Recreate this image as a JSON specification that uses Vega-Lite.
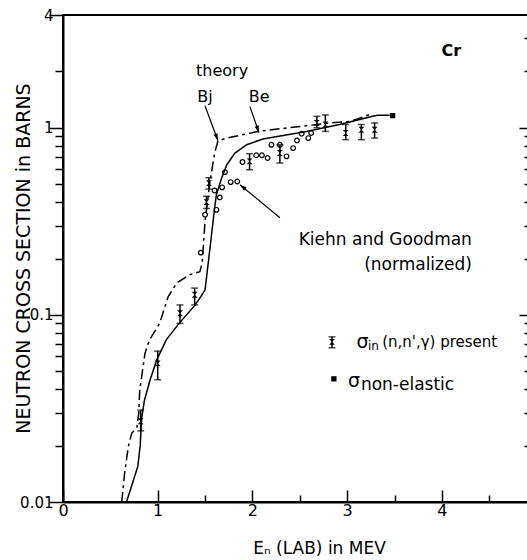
{
  "$schema": "https://vega.github.io/schema/vega-lite/v6.json",
  "width": 466,
  "height": 487,
  "autosize": {"type": "none"},
  "padding": {"left": 63, "top": 15, "right": 0, "bottom": 58},
  "background": "white",
  "config": {
    "font": "DejaVu Sans",
    "view": {"stroke": "black", "strokeWidth": 2},
    "axis": {
      "grid": false,
      "domainColor": "black",
      "domainWidth": 2,
      "tickColor": "black",
      "tickWidth": 1.5,
      "labelColor": "black",
      "titleColor": "black",
      "labelFont": "DejaVu Sans",
      "titleFont": "DejaVu Sans",
      "titleFontWeight": "normal"
    }
  },
  "datasets": {
    "theory_be": [
      {"x": 0.67, "y": 0.01}, {"x": 0.72, "y": 0.012}, {"x": 0.79, "y": 0.0155},
      {"x": 0.815, "y": 0.02}, {"x": 0.83, "y": 0.028}, {"x": 0.86, "y": 0.035},
      {"x": 0.92, "y": 0.045}, {"x": 0.99, "y": 0.0575}, {"x": 1.09, "y": 0.0735},
      {"x": 1.23, "y": 0.0906}, {"x": 1.39, "y": 0.112}, {"x": 1.455, "y": 0.125},
      {"x": 1.5, "y": 0.136}, {"x": 1.55, "y": 0.223}, {"x": 1.6, "y": 0.37},
      {"x": 1.62, "y": 0.44}, {"x": 1.675, "y": 0.538}, {"x": 1.73, "y": 0.634},
      {"x": 1.815, "y": 0.732}, {"x": 1.94, "y": 0.811}, {"x": 2.11, "y": 0.87},
      {"x": 2.57, "y": 0.955}, {"x": 2.92, "y": 1.04}, {"x": 3.27, "y": 1.15},
      {"x": 3.32, "y": 1.165}, {"x": 3.45, "y": 1.165}
    ],
    "theory_bj": [
      {"x": 0.62, "y": 0.01}, {"x": 0.65, "y": 0.0142}, {"x": 0.69, "y": 0.0198},
      {"x": 0.725, "y": 0.0233}, {"x": 0.78, "y": 0.025}, {"x": 0.8, "y": 0.03},
      {"x": 0.81, "y": 0.0396}, {"x": 0.865, "y": 0.062}, {"x": 0.91, "y": 0.073},
      {"x": 1.02, "y": 0.09}, {"x": 1.11, "y": 0.125}, {"x": 1.2, "y": 0.148},
      {"x": 1.34, "y": 0.164}, {"x": 1.445, "y": 0.17}, {"x": 1.47, "y": 0.19},
      {"x": 1.5, "y": 0.32}, {"x": 1.52, "y": 0.38}, {"x": 1.55, "y": 0.506},
      {"x": 1.6, "y": 0.73}, {"x": 1.636, "y": 0.85}, {"x": 1.73, "y": 0.88},
      {"x": 2.06, "y": 0.955}, {"x": 2.39, "y": 1.0}, {"x": 2.82, "y": 1.06},
      {"x": 3.03, "y": 1.08}, {"x": 3.27, "y": 1.19}
    ],
    "bars": [
      {"role": "data", "x": 0.82, "y": 0.027, "lo": 0.024, "hi": 0.031},
      {"role": "data", "x": 1.0, "y": 0.055, "lo": 0.045, "hi": 0.064},
      {"role": "data", "x": 1.235, "y": 0.102, "lo": 0.09, "hi": 0.113},
      {"role": "data", "x": 1.39, "y": 0.128, "lo": 0.113, "hi": 0.139},
      {"role": "data", "x": 1.515, "y": 0.4, "lo": 0.37, "hi": 0.43},
      {"role": "data", "x": 1.54, "y": 0.506, "lo": 0.47, "hi": 0.54},
      {"role": "data", "x": 1.97, "y": 0.66, "lo": 0.596, "hi": 0.726},
      {"role": "data", "x": 2.29, "y": 0.732, "lo": 0.647, "hi": 0.81},
      {"role": "data", "x": 2.68, "y": 1.06, "lo": 1.0, "hi": 1.15},
      {"role": "data", "x": 2.77, "y": 1.04, "lo": 0.955, "hi": 1.17},
      {"role": "data", "x": 2.985, "y": 0.937, "lo": 0.863, "hi": 1.04},
      {"role": "data", "x": 3.15, "y": 0.975, "lo": 0.863, "hi": 1.04},
      {"role": "data", "x": 3.29, "y": 0.975, "lo": 0.88, "hi": 1.06},
      {"role": "key", "x": 2.84, "y": 0.0717, "lo": 0.0667, "hi": 0.0763}
    ],
    "kiehn": [
      {"x": 1.455, "y": 0.215}, {"x": 1.5, "y": 0.343}, {"x": 1.62, "y": 0.364},
      {"x": 1.655, "y": 0.424}, {"x": 1.6, "y": 0.462}, {"x": 1.68, "y": 0.48},
      {"x": 1.71, "y": 0.579}, {"x": 1.77, "y": 0.512}, {"x": 1.84, "y": 0.516},
      {"x": 1.895, "y": 0.656}, {"x": 2.04, "y": 0.712}, {"x": 2.1, "y": 0.712},
      {"x": 2.16, "y": 0.689}, {"x": 2.2, "y": 0.81}, {"x": 2.29, "y": 0.81},
      {"x": 2.36, "y": 0.703}, {"x": 2.43, "y": 0.778}, {"x": 2.47, "y": 0.855},
      {"x": 2.52, "y": 0.929}, {"x": 2.59, "y": 0.88}, {"x": 2.62, "y": 0.937}
    ],
    "nonelastic": [
      {"role": "data", "x": 3.48, "y": 1.16},
      {"role": "key", "x": 2.86, "y": 0.0455}
    ],
    "arrows": [
      {"name": "Bj", "x": 1.499, "y": 1.311, "x2": 1.636, "y2": 0.852},
      {"name": "Be", "x": 1.974, "y": 1.295, "x2": 2.069, "y2": 0.94},
      {"name": "Kiehn", "x": 2.29, "y": 0.33, "x2": 1.868, "y2": 0.496}
    ],
    "notes": [
      {"x": 1.68, "y": 2.02, "text": "theory"},
      {"x": 1.5, "y": 1.456, "text": "Bj"},
      {"x": 2.07, "y": 1.456, "text": "Be"}
    ],
    "source_notes": [
      {"x": 4.317, "y": 0.252, "text": "Kiehn and Goodman"},
      {"x": 4.317, "y": 0.185, "text": "(normalized)"}
    ],
    "element": [{"x": 4.1, "y": 2.58, "text": "Cr"}],
    "key_sigma": [
      {"x": 3.1, "y": 0.0717, "text": "σ"},
      {"x": 3.01, "y": 0.0443, "text": "σ"}
    ],
    "key_sub": [{"x": 3.22, "y": 0.0683, "text": "in"}],
    "key_reaction": [{"x": 3.37, "y": 0.0717, "text": "(n,n',γ) present"}],
    "key_nonelastic": [{"x": 3.145, "y": 0.0422, "text": "non-elastic"}]
  },
  "layer": [
    {
      "encoding": {
        "x": {
          "field": "x",
          "type": "quantitative",
          "scale": {"domain": [0, 4.92], "nice": false, "zero": false},
          "axis": {
            "values": [0, 1, 1.5, 2, 2.5, 3, 3.5, 4, 4.5],
            "labelExpr": "datum.value % 1 === 0 ? '' + datum.value : ''",
            "tickSize": {"condition": {"test": "datum.value % 1 === 0", "value": -12}, "value": -7},
            "labelPadding": 12,
            "labelFontSize": 16,
            "labelFlush": false,
            "labelOverlap": false,
            "title": "Eₙ  (LAB) in MEV",
            "titleFontSize": 17,
            "titleX": 256,
            "titleY": 46,
            "titleBaseline": "middle",
            "titleAlign": "center"
          }
        },
        "y": {
          "field": "y",
          "type": "quantitative",
          "scale": {"type": "log", "domain": [0.01, 4], "nice": false},
          "axis": {
            "values": [0.01, 0.02, 0.03, 0.04, 0.05, 0.06, 0.07, 0.08, 0.09, 0.1, 0.2, 0.3, 0.4, 0.5, 0.6, 0.7, 0.8, 0.9, 1, 2, 4],
            "labelExpr": "indexof([0.01, 0.1, 1, 4], datum.value) >= 0 ? '' + datum.value : ''",
            "tickSize": {"condition": {"test": "indexof([0.01, 0.1, 1, 4], datum.value) >= 0", "value": 14}, "value": 8},
            "labelPadding": -4,
            "labelFontSize": 15,
            "labelFlush": false,
            "labelOverlap": false,
            "title": "NEUTRON CROSS SECTION in BARNS",
            "titleFontSize": 19,
            "titleAngle": -90,
            "titleX": -40,
            "titleY": 243,
            "titleBaseline": "middle",
            "titleAlign": "center"
          }
        }
      },
      "layer": [
        {
          "data": {"name": "theory_be"},
          "mark": {"type": "line", "color": "black", "strokeWidth": 1.5},
          "encoding": {}
        },
        {
          "data": {"name": "theory_bj"},
          "mark": {"type": "line", "color": "black", "strokeWidth": 1.5, "strokeDash": [10, 4, 3, 4]},
          "encoding": {}
        },
        {
          "data": {"name": "bars"},
          "mark": {"type": "rule", "color": "black", "strokeWidth": 1.5},
          "encoding": {"y": {"field": "lo", "type": "quantitative"}, "y2": {"field": "hi"}}
        },
        {
          "data": {"name": "bars"},
          "mark": {"type": "tick", "orient": "horizontal", "color": "black", "size": 7, "thickness": 1.5},
          "encoding": {"y": {"field": "lo", "type": "quantitative"}}
        },
        {
          "data": {"name": "bars"},
          "mark": {"type": "tick", "orient": "horizontal", "color": "black", "size": 7, "thickness": 1.5},
          "encoding": {"y": {"field": "hi", "type": "quantitative"}}
        },
        {
          "data": {"name": "bars"},
          "mark": {"type": "point", "shape": "M-1,-1L1,-1L-1,1L1,1Z", "filled": true, "color": "black", "size": 34, "opacity": 1},
          "encoding": {}
        },
        {
          "data": {"name": "kiehn"},
          "mark": {"type": "point", "shape": "circle", "filled": false, "color": "black", "size": 22, "strokeWidth": 1.2, "opacity": 1},
          "encoding": {}
        },
        {
          "data": {"name": "nonelastic"},
          "mark": {"type": "point", "shape": "square", "filled": true, "color": "black", "size": 28, "opacity": 1},
          "encoding": {}
        },
        {
          "data": {"name": "arrows"},
          "mark": {"type": "rule", "color": "black", "strokeWidth": 1.2},
          "encoding": {"x2": {"field": "x2"}, "y2": {"field": "y2"}}
        },
        {
          "data": {"name": "arrows"},
          "transform": [{"filter": "datum.name === 'Bj'"}],
          "mark": {"type": "point", "shape": "M0,0L-0.3,1L0.3,1Z", "filled": true, "color": "black", "size": 200, "angle": 160, "opacity": 1},
          "encoding": {"x": {"field": "x2", "type": "quantitative"}, "y": {"field": "y2", "type": "quantitative"}}
        },
        {
          "data": {"name": "arrows"},
          "transform": [{"filter": "datum.name === 'Be'"}],
          "mark": {"type": "point", "shape": "M0,0L-0.3,1L0.3,1Z", "filled": true, "color": "black", "size": 200, "angle": 161, "opacity": 1},
          "encoding": {"x": {"field": "x2", "type": "quantitative"}, "y": {"field": "y2", "type": "quantitative"}}
        },
        {
          "data": {"name": "arrows"},
          "transform": [{"filter": "datum.name === 'Kiehn'"}],
          "mark": {"type": "point", "shape": "M0,0L-0.3,1L0.3,1Z", "filled": true, "color": "black", "size": 200, "angle": 310, "opacity": 1},
          "encoding": {"x": {"field": "x2", "type": "quantitative"}, "y": {"field": "y2", "type": "quantitative"}}
        },
        {
          "data": {"name": "notes"},
          "mark": {"type": "text", "fontSize": 16, "align": "center", "baseline": "middle", "color": "black"},
          "encoding": {"text": {"field": "text"}}
        },
        {
          "data": {"name": "source_notes"},
          "mark": {"type": "text", "fontSize": 17, "align": "right", "baseline": "middle", "color": "black"},
          "encoding": {"text": {"field": "text"}}
        },
        {
          "data": {"name": "element"},
          "mark": {"type": "text", "fontSize": 16, "fontWeight": "bold", "align": "center", "baseline": "middle", "color": "black"},
          "encoding": {"text": {"field": "text"}}
        },
        {
          "data": {"name": "key_sigma"},
          "mark": {"type": "text", "fontSize": 19, "align": "left", "baseline": "middle", "color": "black"},
          "encoding": {"text": {"field": "text"}}
        },
        {
          "data": {"name": "key_sub"},
          "mark": {"type": "text", "fontSize": 12, "align": "left", "baseline": "middle", "color": "black"},
          "encoding": {"text": {"field": "text"}}
        },
        {
          "data": {"name": "key_reaction"},
          "mark": {"type": "text", "fontSize": 15, "align": "left", "baseline": "middle", "color": "black"},
          "encoding": {"text": {"field": "text"}}
        },
        {
          "data": {"name": "key_nonelastic"},
          "mark": {"type": "text", "fontSize": 17, "align": "left", "baseline": "middle", "color": "black"},
          "encoding": {"text": {"field": "text"}}
        }
      ]
    },
    {
      "data": {"name": "nonelastic"},
      "mark": {"type": "point", "opacity": 0},
      "encoding": {
        "x": {"field": "x", "type": "quantitative"},
        "y": {
          "field": "y",
          "type": "quantitative",
          "axis": {
            "orient": "right",
            "values": [0.02, 0.03, 0.04, 0.05, 0.06, 0.07, 0.08, 0.09, 0.1, 0.2, 0.3, 0.4, 0.5, 0.6, 0.7, 0.8, 0.9, 1, 2, 3],
            "labels": false,
            "domain": false,
            "title": null,
            "tickSize": {"condition": {"test": "indexof([0.1, 1], datum.value) >= 0", "value": -10}, "value": -5}
          }
        }
      }
    }
  ],
  "resolve": {"axis": {"y": "independent"}}
}
